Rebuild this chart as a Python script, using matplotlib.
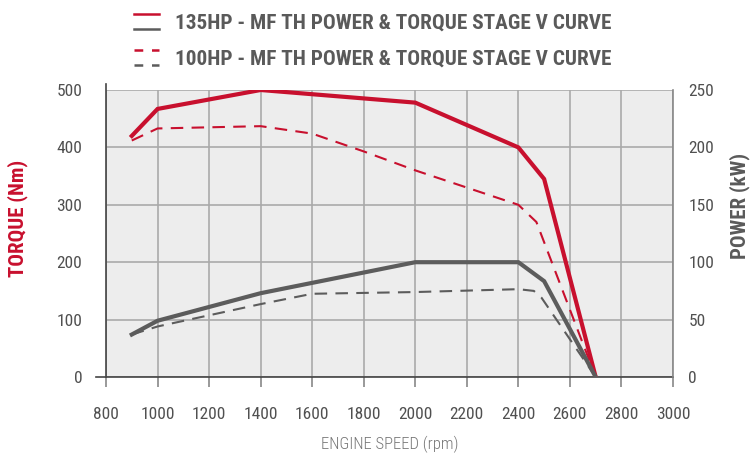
import matplotlib
matplotlib.use("Agg")
import matplotlib.pyplot as plt
from matplotlib.lines import Line2D
from matplotlib.legend_handler import HandlerBase
from matplotlib import font_manager as fm

# ---- data ----
rpm_135_torque = [900, 1000, 1400, 2000, 2400, 2500, 2700]
torque_135 = [420, 467, 500, 478, 400, 345, 0]

rpm_100_torque = [900, 1000, 1400, 1600, 1800, 2000, 2400, 2470, 2700]
torque_100 = [412, 433, 437, 424, 393, 360, 300, 270, 0]

rpm_135_power = [900, 1000, 1400, 2000, 2400, 2500, 2700]
power_135 = [37, 49, 73, 100, 100, 83.5, 0]

rpm_100_power = [900, 1000, 1400, 1600, 2000, 2400, 2460, 2490, 2700]
power_100 = [37, 44, 63.5, 72.5, 74, 76.5, 75, 69, 0]

x_ticks = [800, 1000, 1200, 1400, 1600, 1800, 2000, 2200, 2400, 2600, 2800, 3000]
torque_ticks = [0, 100, 200, 300, 400, 500]
power_ticks = [0, 50, 100, 150, 200, 250]

legend_labels = ["135HP - MF TH POWER & TORQUE STAGE V CURVE",
                 "100HP - MF TH POWER & TORQUE STAGE V CURVE"]

RED = "#c8102e"
GREY = "#5c5c5c"
TXT = "#505050"
GRID = "#aaaaaa"
BG = "#ededed"

avail = {f.name for f in fm.fontManager.ttflist}
cands = ["Roboto Condensed", "Archivo Narrow", "Asap Condensed", "PT Sans Narrow",
         "Liberation Sans Narrow", "Encode Sans Condensed", "Open Sans Condensed",
         "DejaVu Sans Condensed"]
FONT = [c for c in cands if c in avail][:1] + ["DejaVu Sans"]
plt.rcParams["font.family"] = FONT

fig = plt.figure(figsize=(7.51, 4.55), dpi=100)
ax = fig.add_axes([106 / 751, 1 - 377 / 455, 567 / 751, 287 / 455])
ax.set_facecolor(BG)
ax2 = ax.twinx()

ax.set_xlim(800, 3000)
ax.set_ylim(0, 500)
ax2.set_ylim(0, 250)

ax.set_xticks(x_ticks)
ax.set_yticks(torque_ticks)
ax2.set_yticks(power_ticks)
ax.grid(True, color=GRID, linewidth=1.2)
ax.set_axisbelow(True)

dash = (0, (6, 4))
ax.plot(rpm_135_torque, torque_135, color=RED, lw=3.0, solid_joinstyle="miter", zorder=4)
ax.plot(rpm_100_torque, torque_100, color=RED, lw=1.5, linestyle=dash, zorder=3)
ax2.plot(rpm_135_power, power_135, color=GREY, lw=3.0, solid_joinstyle="miter", zorder=4)
ax2.plot(rpm_100_power, power_100, color=GREY, lw=1.5, linestyle=dash, zorder=3)

for a in (ax, ax2):
    for s in a.spines.values():
        s.set_color("#888888")
        s.set_linewidth(1.2)
    a.spines["top"].set_visible(False)
ax.spines["right"].set_visible(False)
ax2.spines["left"].set_visible(False)
ax2.spines["bottom"].set_visible(False)
ax.spines["bottom"].set_color("#444444")
ax.spines["left"].set_color("#444444")
ax.spines["bottom"].set_bounds(760, 3000)
ax.spines["left"].set_bounds(0, 510)
ax2.spines["right"].set_bounds(0, 250)

ax.tick_params(axis="x", direction="out", length=7, width=1.2, color="#888888",
               pad=14.5, labelsize=12.5, labelcolor=TXT)
ax.tick_params(axis="y", length=0, pad=17, labelsize=12.5, labelcolor=TXT)
ax2.tick_params(axis="y", length=0, pad=11, labelsize=12.5, labelcolor=TXT)

ax.set_xlabel("ENGINE SPEED (rpm)", fontsize=12, color="#777777", fontweight="light")
ax.xaxis.set_label_coords((390 - 106) / 567, (377 - 444) / 287)
ax.set_ylabel("TORQUE (Nm)", fontsize=15, fontweight="bold", color=RED)
ax.yaxis.set_label_coords((18 - 106) / 567, (377 - 218) / 287)
ax2.set_ylabel("POWER (kW)", fontsize=15, fontweight="bold", color="#5a5a5a")
ax2.yaxis.set_label_coords((740 - 106) / 567, (377 - 206) / 287)
ax2.yaxis.label.set_va("center")
ax.yaxis.label.set_va("center")
ax.xaxis.label.set_va("center")

leg_fs = 15.3
fs_px = leg_fs * 100 / 72


class StackHandler(HandlerBase):
    def __init__(self, ls, **kw):
        super().__init__(**kw)
        self.ls = ls

    def create_artists(self, legend, orig_handle, xdescent, ydescent, width, height,
                       fontsize, trans):
        mid = height / 2.0
        off = 0.36 * fontsize
        l1 = Line2D([0, width], [mid + off, mid + off], color=RED, lw=1.8,
                    linestyle=self.ls, transform=trans)
        l2 = Line2D([0, width], [mid - off, mid - off], color=GREY, lw=1.8,
                    linestyle=self.ls, transform=trans)
        return [l1, l2]


h1 = Line2D([], [], color=RED)
h2 = Line2D([], [], color=RED, linestyle="--")
leg = fig.legend([h1, h2], legend_labels, loc="upper left",
                 bbox_to_anchor=(134 / 751, 1 - 14 / 455), frameon=False,
                 borderpad=0, borderaxespad=0,
                 handler_map={h1: StackHandler("-"), h2: StackHandler((0, (3.5, 3.5)))},
                 handlelength=25 / fs_px, handletextpad=16 / fs_px,
                 labelspacing=17 / fs_px,
                 prop={"family": FONT, "weight": "bold", "size": leg_fs})
for t in leg.get_texts():
    t.set_color("#5a5a5a")

fig.savefig("out.png", dpi=100)
